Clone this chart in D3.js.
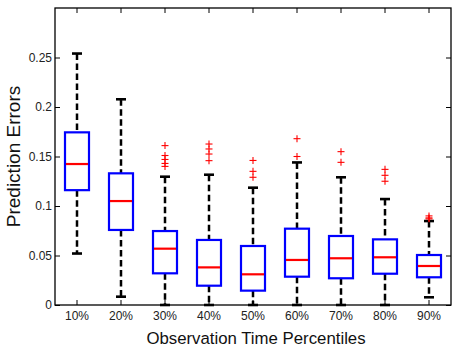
<!DOCTYPE html>
<html><head><meta charset="utf-8">
<script src="https://cdn.jsdelivr.net/npm/d3@7"></script>
<style>body{margin:0;background:#fff}svg{display:block}text{font-family:"Liberation Sans",Arial,sans-serif}</style>
</head><body><svg id="c" width="452" height="351"></svg>
<script>
const categories = ["10%","20%","30%","40%","50%","60%","70%","80%","90%"];
const whiskerLow  = [0.052,0.0084,0,0,0,0,0,0,0.0078];
const q1          = [0.116,0.0758,0.032,0.0195,0.0145,0.0286,0.027,0.0316,0.028];
const medians     = [0.1424,0.105,0.0569,0.038,0.031,0.0455,0.0472,0.0482,0.0394];
const q3          = [0.1744,0.133,0.0747,0.0657,0.0596,0.0771,0.0697,0.0663,0.0505];
const whiskerHigh = [0.254,0.2078,0.1296,0.1316,0.1185,0.144,0.129,0.107,0.0848];
const outliers    = [[],[],[0.161,0.151,0.147,0.143,0.140],[0.1626,0.1576,0.1525,0.1458],[0.146,0.135,0.129],[0.168,0.150],[0.1549,0.1441],[0.137,0.131,0.125],[0.090,0.088,0.087]];
const yTicks = [0,0.05,0.1,0.15,0.2,0.25];
const yTickLabels = ["0","0.05","0.1","0.15","0.2","0.25"];

const svg = d3.select("#c");
const L=55, R=451, T=8, B=305;
const x = d3.scaleBand().domain(categories).range([L,R]).padding(0);
const y = d3.scaleLinear().domain([0,0.3]).range([B,T]);
const cx = c => x(c)+x.bandwidth()/2;
const bw = 24, cw = 9;

const data = categories.map((c,i)=>({c,lo:whiskerLow[i],q1:q1[i],med:medians[i],q3:q3[i],hi:whiskerHigh[i],out:outliers[i]}));

const g = svg.append("g");
// whiskers
g.selectAll(".wu").data(data).join("line").attr("x1",d=>cx(d.c)).attr("x2",d=>cx(d.c))
 .attr("y1",d=>y(d.hi)).attr("y2",d=>y(d.q3)).attr("stroke","#000").attr("stroke-width",2.5).attr("stroke-dasharray","6.5,3.5");
g.selectAll(".wl").data(data).join("line").attr("x1",d=>cx(d.c)).attr("x2",d=>cx(d.c))
 .attr("y1",d=>y(d.q1)).attr("y2",d=>y(d.lo)).attr("stroke","#000").attr("stroke-width",2.5).attr("stroke-dasharray","6.5,3.5");
// caps
["hi","lo"].forEach(k=>{
 g.selectAll(".cap"+k).data(data).join("line").attr("x1",d=>cx(d.c)-cw/2-0.5).attr("x2",d=>cx(d.c)+cw/2+0.5)
  .attr("y1",d=>y(d[k])).attr("y2",d=>y(d[k])).attr("stroke","#000").attr("stroke-width",2.6);
});
// boxes
g.selectAll("rect.box").data(data).join("rect").attr("x",d=>cx(d.c)-bw/2).attr("width",bw)
 .attr("y",d=>y(d.q3)).attr("height",d=>y(d.q1)-y(d.q3)).attr("fill","none").attr("stroke","#0000ff").attr("stroke-width",2.2);
g.selectAll(".med").data(data).join("line").attr("x1",d=>cx(d.c)-bw/2+1).attr("x2",d=>cx(d.c)+bw/2-1)
 .attr("y1",d=>y(d.med)).attr("y2",d=>y(d.med)).attr("stroke","#ff0000").attr("stroke-width",2.2);
// outliers
const pts = data.flatMap(d=>d.out.map(v=>({c:d.c,v})));
const s=3.5;
g.selectAll(".oh").data(pts).join("line").attr("x1",d=>cx(d.c)-s).attr("x2",d=>cx(d.c)+s)
 .attr("y1",d=>y(d.v)).attr("y2",d=>y(d.v)).attr("stroke","#ff0000").attr("stroke-width",1.1);
g.selectAll(".ov").data(pts).join("line").attr("x1",d=>cx(d.c)).attr("x2",d=>cx(d.c))
 .attr("y1",d=>y(d.v)-s).attr("y2",d=>y(d.v)+s).attr("stroke","#ff0000").attr("stroke-width",1.1);

// axes
const yAx = d3.axisLeft(y).tickValues(yTicks).tickFormat((d,i)=>yTickLabels[i]).tickSizeInner(-5).tickSizeOuter(0).tickPadding(3);
const ya = svg.append("g").attr("transform",`translate(${L},0)`).call(yAx);
const yr = d3.axisRight(y).tickValues(yTicks).tickFormat("").tickSizeInner(-5).tickSizeOuter(0);
const yra = svg.append("g").attr("transform",`translate(${R},0)`).call(yr);
const xAx = d3.axisBottom(x).tickSizeInner(-5).tickSizeOuter(0).tickPadding(6);
const xa = svg.append("g").attr("transform",`translate(0,${B})`).call(xAx);
const xt = d3.axisTop(x).tickFormat("").tickSizeInner(-5).tickSizeOuter(0);
const xta = svg.append("g").attr("transform",`translate(0,${T})`).call(xt);
[ya,yra,xa,xta].forEach(a=>{a.select(".domain").remove();a.selectAll("line").attr("stroke","#000");
 a.selectAll("text").attr("fill","#222").style("font-size","12px");});
svg.append("rect").attr("x",L).attr("y",T).attr("width",R-L).attr("height",B-T).attr("fill","none").attr("stroke","#000").attr("stroke-width",1.3);

svg.append("text").attr("x",256).attr("y",344).attr("text-anchor","middle").style("font-size","16.8px").attr("fill","#111").text("Observation Time Percentiles");
svg.append("text").attr("transform",`translate(20,156.5) rotate(-90)`).attr("text-anchor","middle").style("font-size","19px").attr("fill","#111").text("Prediction Errors");
</script></body></html>
